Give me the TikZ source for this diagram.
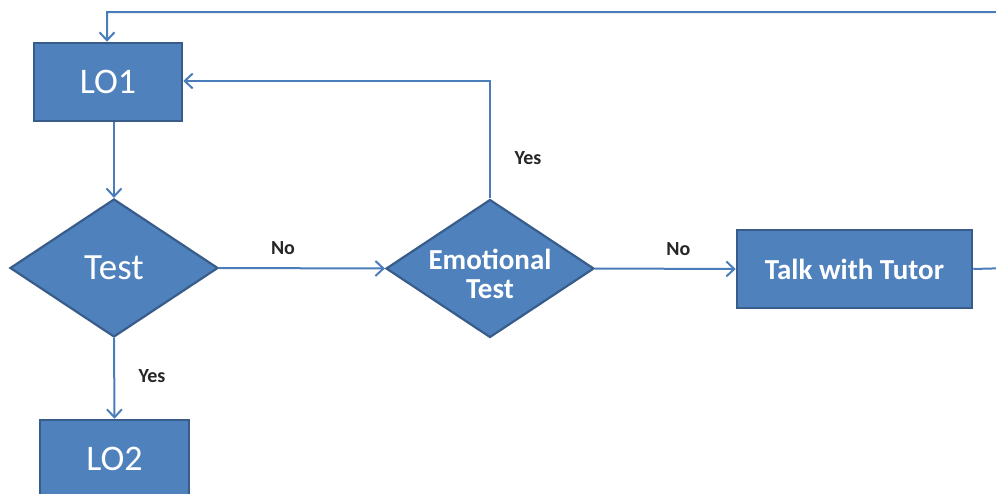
\documentclass[tikz,border=0pt]{standalone}
\usepackage{fontspec}
\setmainfont{Carlito}
\usetikzlibrary{shapes.geometric,arrows.meta}
\definecolor{boxfill}{HTML}{4F81BD}
\definecolor{boxedge}{HTML}{385D8A}
\definecolor{linkblue}{HTML}{4A7EBB}
\begin{document}
\begin{tikzpicture}[x=1pt,y=-1pt,
  stepbox/.style={rectangle, fill=boxfill, draw=boxedge, line width=2.5pt,
    minimum width=148pt, minimum height=78pt, inner sep=0pt, text=white,
    font=\fontsize{36}{38}\selectfont},
  decision/.style={diamond, fill=boxfill, draw=boxedge, line width=2.2pt,
    minimum width=208pt, minimum height=138pt, inner sep=0pt, text=white,
    align=center, font=\fontsize{37}{39}\selectfont},
  boldtext/.style={font=\bfseries\fontsize{29}{29}\selectfont},
  caption/.style={boldtext, text=white, align=center, inner sep=0pt},
  link/.style={draw=linkblue, line width=2pt},
  arrow/.style={link, -{Straight Barb[length=8pt,width=15pt,line width=2pt]}},
  tag/.style={font=\bfseries\fontsize{20}{22}\selectfont, text=black!85}]
\useasboundingbox (0,0) rectangle (996,493);
\clip (0,0) rectangle (996,493);

% process boxes and decisions
\node[stepbox] (lo1) at (108,82) {LO1};
\node[decision] (test) at (114,268) {Test};
\node[decision] (emo) at (490,268.5) {};
\node[caption] (emotext) at (490,274) {Emotional\\Test};
\node[stepbox, boldtext, minimum width=235pt] (tutor) at (854.5,269) {Talk with Tutor};
\node[stepbox, minimum width=149pt] (lo2) at (114.5,459) {LO2};

% route helpers
\coordinate (topline) at (107,12);
\coordinate (farright) at (1010,268);
\coordinate (yesbend) at (490,81);

% connectors
\draw[arrow] (lo1.south -| test.north) -- (test.north);
\draw[arrow] (test.east) -- node[tag, above, yshift=9pt, xshift=-19pt] {No} (emo.west);
\draw[arrow] (emo.east) -- node[tag, above, yshift=9pt, xshift=13pt] {No} (tutor.west);
\draw[arrow] (test.south) -- node[tag, right, xshift=20pt, yshift=2pt] {Yes} (lo2.north);
\draw[arrow] (emo.north) -- (yesbend) -- (yesbend -| lo1.east);
\draw[arrow] (tutor.east) -- (farright) |- (topline) -- (lo1.north -| topline);
\node[tag] (yeslabel) at (528,158) {Yes};
\end{tikzpicture}
\end{document}
